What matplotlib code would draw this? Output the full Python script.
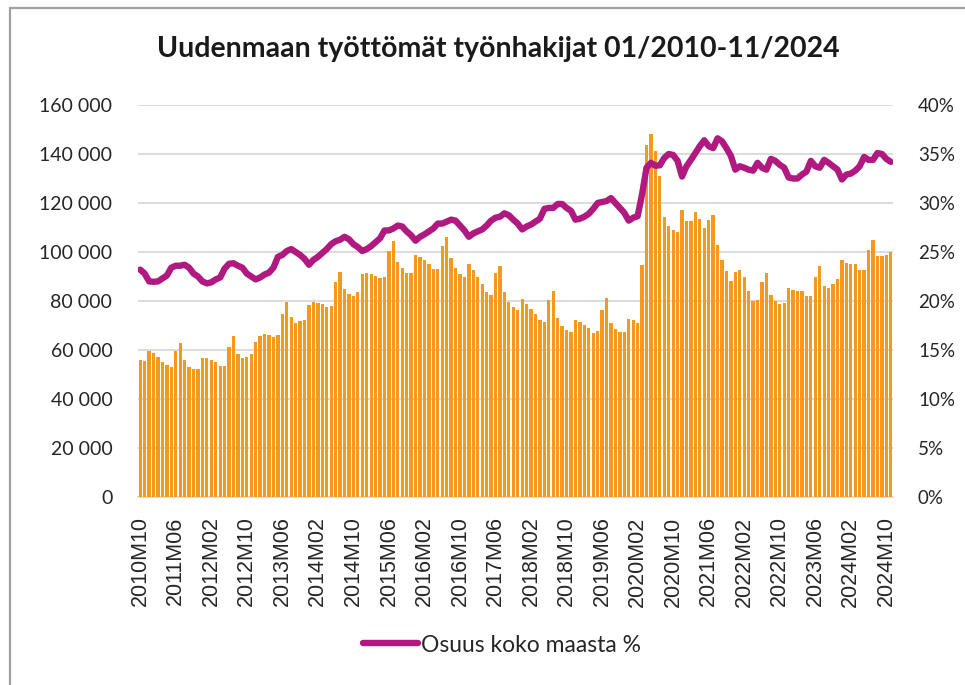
import matplotlib
matplotlib.use("Agg")
import matplotlib.pyplot as plt
from matplotlib.lines import Line2D
from matplotlib.patches import Rectangle
from matplotlib.ticker import FuncFormatter

# ---- data ----
start_year = 2010
start_month = 10
job_seekers_k = [
    55.9, 55.5, 59.5, 58.6, 57.2, 55.3, 53.8, 53.1, 59.7, 62.8,
    55.8, 53.0, 52.3, 52.3, 56.6, 56.8, 55.9, 54.9, 53.5, 53.5,
    61.3, 65.7, 58.2, 56.6, 57.3, 58.4, 63.1, 65.8, 66.5, 66.1,
    65.4, 66.0, 74.6, 79.7, 73.3, 71.1, 72.0, 72.2, 78.5, 79.6,
    79.2, 78.6, 77.6, 78.1, 87.9, 91.9, 85.0, 82.7, 82.0, 83.6,
    90.9, 91.4, 90.9, 90.3, 89.2, 89.9, 100.4, 104.6, 96.1, 93.4,
    91.5, 91.5, 98.8, 97.8, 96.8, 95.0, 93.1, 93.1, 102.3, 106.2,
    97.7, 93.4, 91.1, 89.9, 95.1, 92.8, 90.0, 86.9, 83.8, 82.4,
    91.5, 94.2, 83.6, 79.7, 77.6, 76.5, 80.8, 78.9, 76.9, 74.6,
    72.4, 71.3, 80.4, 84.1, 73.1, 69.9, 68.0, 67.3, 72.4, 71.6,
    70.4, 68.9, 66.9, 67.7, 76.5, 81.2, 71.2, 68.5, 67.2, 67.2,
    72.7, 72.3, 71.2, 94.5, 143.5, 148.0, 141.1, 131.2, 114.3, 110.7,
    109.1, 108.1, 117.3, 112.6, 112.6, 116.2, 113.5, 109.7, 113.2, 115.1,
    103.0, 96.8, 92.3, 88.1, 92.0, 92.8, 89.7, 84.0, 79.9, 80.5,
    87.7, 91.3, 82.6, 80.1, 78.9, 79.3, 85.3, 84.3, 83.9, 83.9,
    82.2, 82.0, 89.6, 94.1, 86.1, 85.5, 86.8, 88.8, 96.8, 95.7,
    95.3, 95.3, 92.7, 92.6, 100.8, 105.1, 98.4, 98.3, 98.8, 100.0,
]
share_pct = [
    23.2, 22.8, 22.0, 21.96, 22.0, 22.3, 22.6, 23.4, 23.6, 23.6,
    23.7, 23.4, 22.8, 22.5, 22.0, 21.8, 21.9, 22.2, 22.4, 23.3,
    23.8, 23.85, 23.6, 23.4, 22.8, 22.5, 22.2, 22.4, 22.7, 22.9,
    23.4, 24.5, 24.7, 25.1, 25.3, 25.0, 24.7, 24.3, 23.7, 24.2,
    24.5, 24.9, 25.3, 25.8, 26.1, 26.25, 26.55, 26.3, 25.8, 25.5,
    25.1, 25.3, 25.6, 26.0, 26.4, 27.2, 27.2, 27.4, 27.7, 27.6,
    27.1, 26.7, 26.15, 26.55, 26.8, 27.1, 27.4, 27.9, 27.9, 28.1,
    28.3, 28.2, 27.7, 27.2, 26.55, 26.9, 27.1, 27.3, 27.7, 28.2,
    28.5, 28.6, 28.95, 28.75, 28.3, 27.9, 27.3, 27.6, 27.8, 28.1,
    28.4, 29.4, 29.5, 29.5, 29.9, 29.9, 29.5, 29.2, 28.3, 28.4,
    28.6, 28.9, 29.4, 30.0, 30.1, 30.2, 30.5, 30.0, 29.5, 29.0,
    28.2, 28.5, 28.65, 30.9, 33.6, 34.1, 33.8, 33.85, 34.6, 35.0,
    34.9, 34.3, 32.7, 33.75, 34.4, 35.1, 35.8, 36.4, 35.8, 35.6,
    36.6, 36.3, 35.6, 34.8, 33.4, 33.75, 33.6, 33.4, 33.3, 34.1,
    33.6, 33.4, 34.5, 34.3, 33.9, 33.6, 32.6, 32.5, 32.5, 32.9,
    33.2, 34.3, 33.75, 33.6, 34.4, 34.1, 33.75, 33.4, 32.4, 32.9,
    33.0, 33.3, 33.75, 34.7, 34.4, 34.4, 35.1, 35.0, 34.5, 34.2,
]
title = "Uudenmaan työttömät työnhakijat 01/2010-11/2024"
legend_label = "Osuus koko maasta %"

# category labels (YYYYMmm)
categories = []
y, m = start_year, start_month
for _ in range(len(job_seekers_k)):
    categories.append(f"{y}M{m:02d}")
    m += 1
    if m > 12:
        m = 1
        y += 1

job_seekers = [v * 1000 for v in job_seekers_k]
share = [v / 100 for v in share_pct]
x = list(range(len(categories)))

# ---- figure ----
W, H = 965, 685
fig = plt.figure(figsize=(W / 100, H / 100), dpi=100)
fig.patch.set_facecolor("white")

# outer frame (top and left edges visible)
fig.add_artist(Rectangle((10 / W, -0.05), 1.2, 1 - 8 / H + 0.05,
                         transform=fig.transFigure, fill=False,
                         edgecolor="#a0a0a0", linewidth=1.6))

left, right, top, bottom = 138, 893, 105, 497
ax = fig.add_axes([left / W, 1 - bottom / H, (right - left) / W, (bottom - top) / H])
ax2 = ax.twinx()

bar_color = "#F39A1E"
line_color = "#B0197F"
grid_color = "#d9d9d9"
text_color = "#262626"

ax.bar(x, job_seekers, width=0.74, color=bar_color, zorder=3)
ax.set_xlim(-0.5, len(x) - 0.5)
ax.set_ylim(0, 160000)
ax.set_yticks(range(0, 160001, 20000))
ax.yaxis.set_major_formatter(FuncFormatter(lambda v, p: f"{int(v):,}".replace(",", " ")))
ax.grid(axis="y", color=grid_color, linewidth=1.3, zorder=0)
ax.set_axisbelow(True)

ax.set_xticks(x[::8])
ax.set_xticklabels(categories[::8], rotation=90, fontfamily="Liberation Sans",
                   fontsize=15.5, color=text_color)

for s in ["top", "right", "left"]:
    ax.spines[s].set_visible(False)
ax.spines["bottom"].set_color(grid_color)
ax.spines["bottom"].set_linewidth(1.3)
ax.tick_params(axis="x", length=0, pad=14)
ax.tick_params(axis="y", length=0, pad=18.5, labelsize=14, labelcolor=text_color)
for lbl in ax.get_yticklabels():
    lbl.set_fontfamily("Lato")

ax2.plot(x, share, color=line_color, linewidth=4.6, solid_joinstyle="round",
         solid_capstyle="round", zorder=4)
ax2.set_ylim(0, 0.40)
ax2.set_yticks([i * 0.05 for i in range(9)])
ax2.yaxis.set_major_formatter(FuncFormatter(lambda v, p: f"{round(v * 100)}%"))
for s in ["top", "right", "left", "bottom"]:
    ax2.spines[s].set_visible(False)
ax2.tick_params(axis="y", length=0, pad=18, labelsize=13.5, labelcolor=text_color)
for lbl in ax2.get_yticklabels():
    lbl.set_fontfamily("Lato")

fig.text(498 / W, 1 - 49 / H, title, ha="center", va="center",
         fontfamily="Lato", fontweight="bold", fontsize=20.5, color="#1a1a1a")

handle = Line2D([], [], color=line_color, linewidth=4.6, solid_capstyle="round")
fig.legend([handle], [legend_label], loc="center",
           bbox_to_anchor=(502 / W, 1 - 645 / H), frameon=False,
           prop={"family": "Lato", "size": 16.5}, handlelength=2.4,
           handletextpad=0.1, labelcolor=text_color)

fig.savefig("out.png", dpi=100)
